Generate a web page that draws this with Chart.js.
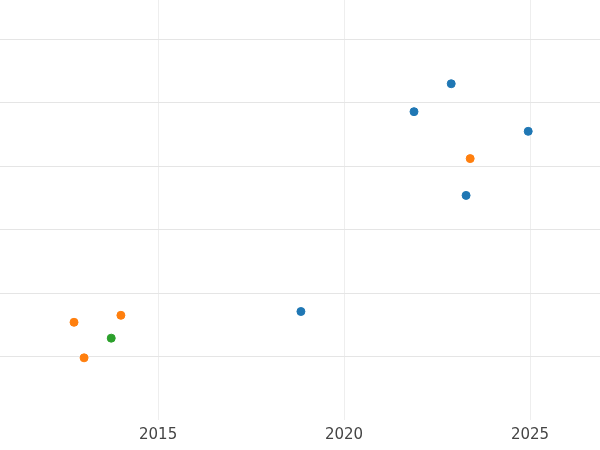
<!DOCTYPE html>
<html>
<head>
<meta charset="utf-8">
<script src="https://cdn.jsdelivr.net/npm/chart.js@4"></script>
<style>
  html, body { margin: 0; padding: 0; background: #fff; }
  #wrap { width: 600px; height: 450px; }
</style>
</head>
<body>
<div id="wrap"><canvas id="chart"></canvas></div>
<script>
const blueX = [2022.88, 2021.88, 2024.95, 2023.28, 2018.84];
const blueY = [5.30, 4.86, 4.55, 3.54, 1.71];
const orangeX = [2023.39, 2012.74, 2014.0, 2013.01];
const orangeY = [4.12, 1.54, 1.65, 0.98];
const greenX = [2013.74];
const greenY = [1.29];
const xTicks = [2015, 2020, 2025];
const yTicks = [1, 2, 3, 4, 5, 6];

const pts = (xs, ys) => xs.map((x, i) => ({ x: x, y: ys[i] }));
const ds = (xs, ys, color) => ({
    data: pts(xs, ys),
    backgroundColor: color,
    borderColor: color,
    pointRadius: 4,
    pointHoverRadius: 4,
});

const ctx = document.getElementById('chart').getContext('2d');
new Chart(ctx, {
    type: 'scatter',
    data: {
        datasets: [
            ds(blueX, blueY, '#1f77b4'),
            ds(orangeX, orangeY, '#ff7f0e'),
            ds(greenX, greenY, '#2ca02c'),
        ],
    },
    options: {
        responsive: true,
        maintainAspectRatio: false,
        animation: false,
        layout: { padding: 0, autoPadding: false },
        plugins: { legend: { display: false }, tooltip: { enabled: false } },
        scales: {
            x: {
                min: 2010.75,
                max: 2026.88,
                afterBuildTicks: (axis) => { axis.ticks = xTicks.map(v => ({ value: v })); },
                ticks: {
                    callback: (v) => String(v),
                    color: '#444',
                    font: { family: 'DejaVu Sans', size: 15 },
                    padding: 6,
                },
                grid: { color: '#eeeeee', drawTicks: false },
                border: { display: false },
            },
            y: {
                min: 0,
                max: 6.62,
                afterBuildTicks: (axis) => { axis.ticks = yTicks.map(v => ({ value: v })); },
                ticks: { display: false },
                grid: { color: '#e5e5e5', drawTicks: false },
                border: { display: false },
            },
        },
    },
});
</script>
</body>
</html>
